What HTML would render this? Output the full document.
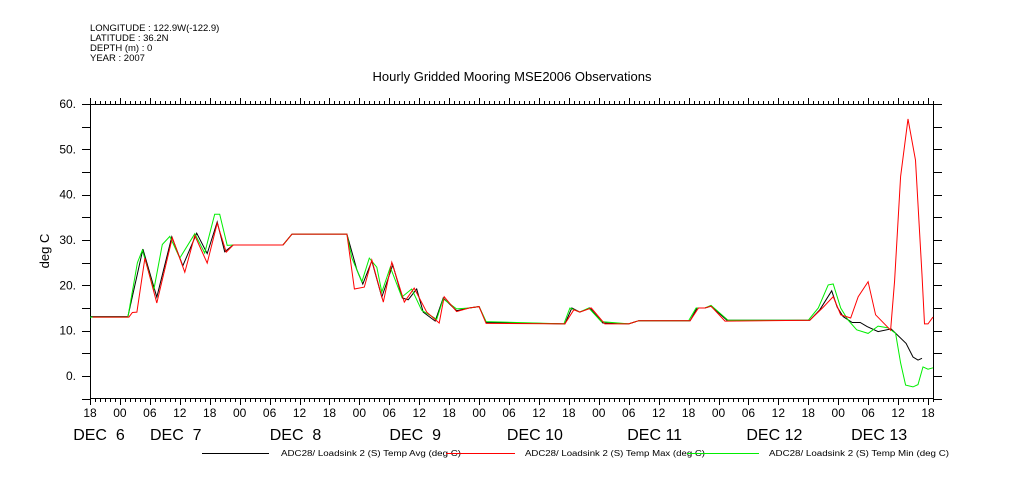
<!DOCTYPE html>
<html><head><meta charset="utf-8"><style>
body{margin:0;background:#fff;}
svg{display:block;font-family:"Liberation Sans",sans-serif;}
</style></head><body>
<svg id="c" width="1009" height="504" viewBox="0 0 1009 504">
<g font-size="9.5" fill="#000">
<text x="90" y="31">LONGITUDE : 122.9W(-122.9)</text>
<text x="90" y="41">LATITUDE : 36.2N</text>
<text x="90" y="51">DEPTH (m) : 0</text>
<text x="90" y="61">YEAR : 2007</text>
</g>
<text x="512" y="81" font-size="13" text-anchor="middle">Hourly Gridded Mooring MSE2006 Observations</text>
<text x="49" y="251" font-size="13" text-anchor="middle" transform="rotate(-90 49 251)">deg C</text>
<g id="axes"></g>
<g id="series"></g>
<g font-size="8">
<line x1="202" y1="453.5" x2="269" y2="453.5" stroke="#000"/>
<text x="281" y="456" textLength="180" lengthAdjust="spacingAndGlyphs">ADC28/ Loadsink 2 (S) Temp Avg (deg C)</text>
<line x1="446" y1="453.5" x2="515" y2="453.5" stroke="#f00"/>
<text x="525" y="456" textLength="180" lengthAdjust="spacingAndGlyphs">ADC28/ Loadsink 2 (S) Temp Max (deg C)</text>
<line x1="687" y1="453.5" x2="759" y2="453.5" stroke="#0e0"/>
<text x="769" y="456" textLength="180" lengthAdjust="spacingAndGlyphs">ADC28/ Loadsink 2 (S) Temp Min (deg C)</text>
</g>
</svg>
<script>
// hours since DEC 6 18:00
const avgH=[0,7.6,10.6,13.4,16.4,18.6,21.4,23.5,25.5,27,28.7,38.7,40.5,51.5,53.5,54.7,56.5,58.5,60.7,62.6,63.8,65.5,66.8,69.2,70.8,73.5,76,78,79.4,95.2,96.6,98.2,100.2,102.8,108,110,120.3,121.7,123.3,124.5,127.7,144.3,146.3,148.7,149.8,151,152.8,154.4,155.8,158,160.6,163.6,165,166,166.8];
const avgV=[13.1,13.1,28,17.4,30.7,24.3,31.5,27,34,27.4,28.9,28.9,31.3,31.3,23.4,20.3,25.4,17.4,24.5,17.2,16.8,19.2,14.1,12.1,17.2,14.4,15,15.3,11.8,11.5,15,14.1,15,11.7,11.5,12.2,12.2,15,15,15.4,12.3,12.3,14.6,18.8,15.2,13.1,11.8,11.8,10.9,9.8,10.4,7.2,4.2,3.5,3.9];
const maxH=[0.5,7.8,8.5,9.4,11,13.4,16.5,19,21,23.5,25.5,27.3,28.7,38.7,40.5,51.5,53,55,56.5,58.8,60.5,63,65,67.5,70,71,73.5,76,78,79.4,95.2,97,98.2,100.5,103.2,108,110,120.3,122,123.3,124.5,127.3,144.3,147,149,150.5,152.5,154,156,157.5,160.5,161.3,162.5,164,165.5,166.8,167.3,168,169];
const maxV=[13,13,14,14.1,26,16.1,30.5,22.9,31,24.9,33.7,27.3,28.9,28.9,31.3,31.3,19.2,19.6,25.6,16.3,25.1,16.3,19.4,14.1,11.7,17.5,14.2,15,15.3,11.6,11.5,14.6,14.1,15,11.5,11.5,12.2,12.2,15,15,15.4,12.1,12.3,15.2,17.5,13.5,12.8,17.5,20.8,13.5,10.1,21,44,56.7,47.6,22.3,11.5,11.5,13];
const minH=[0,7.6,9.5,10.5,12.8,14.5,16,18,21,23,25,26,27.5,28.7,38.7,40.5,51.5,52.5,54.5,56,57.5,58.5,60.2,62.5,64.5,66.5,69.5,70.8,73.5,76,78,79.4,95,96.2,98.2,100,102.5,108,110,120,121.5,123.3,124.5,127.9,144,146,148,149,150.5,152,153.7,156,158,160,161.5,162.5,163.5,165,166,167,168,169];
const minV=[13,13,25,27.8,19,29,30.8,26,31.4,27.1,35.7,35.7,28.8,28.9,28.9,31.3,31.3,26,20.8,26,24,18.5,24,17.4,19.2,14.5,12.5,17,14.8,15,15.3,12,11.5,15,14.1,15,12,11.5,12.2,12.2,15,15,15.6,12.3,12.3,15,20.1,20.3,15,12.3,10.2,9.4,11,10.6,9.4,2.9,-2,-2.4,-1.9,2,1.5,1.8];
const yTicks=[60,50,40,30,20,10,0];
const hourLabels=["18","00","06","12"];
const dayLabels=["DEC  6","DEC  7","DEC  8","DEC  9","DEC 10","DEC 11","DEC 12","DEC 13"];
const dayNoonH=[1.8,17.2,41.2,65.2,89.2,113.2,137.2,158.2];

const NS="http://www.w3.org/2000/svg";
const L=90,R=933,T=104,B=398;
const xs=h=>L+h*(928-90)/168;
const ys=v=>376-v*(376-104)/60;
function mk(t,a,p){const e=document.createElementNS(NS,t);for(const k in a)e.setAttribute(k,a[k]);p.appendChild(e);return e;}
const ax=document.getElementById('axes');
const frame=mk('rect',{x:L+0.5,y:T+0.5,width:R-L,height:B-T,fill:'none',stroke:'#000','stroke-width':1},ax);


let d='';
for(let h=0;h<=169;h++){const x=Math.round(xs(h))+0.5;const len=(h%6===0)?6:3;
 d+=`M${x} ${T}v${-len}M${x} ${B+1}v${len}`;}
const xt=mk('path',{d:d,stroke:'#000','stroke-width':1,fill:'none'},ax);


for(let i=0;i*6<=168;i++){const t=mk('text',{x:xs(i*6),y:417,'font-size':12,'text-anchor':'middle'},ax);
 t.textContent=hourLabels[i%4];
 
 }
for(let i=0;i<dayLabels.length;i++){const t=mk('text',{x:xs(dayNoonH[i]),y:440,'font-size':16,'text-anchor':'middle'},ax);
 t.textContent=dayLabels[i];t.style.whiteSpace='pre';
 
 }
let yd='';
for(let v=-5;v<=60;v+=5){const y=Math.round(ys(v))+0.5;yd+=`M${L} ${y}h-8M${R+1} ${y}h8`;}
const yt=mk('path',{d:yd,stroke:'#000',fill:'none'},ax);


yTicks.forEach(v=>{const t=mk('text',{x:76,y:ys(v)+4,'font-size':12,'text-anchor':'end'},ax);
 t.textContent=v.toFixed(0)+'.';
 
 });
const sg=document.getElementById('series');
function line(H,V,col,name){const pts=H.map((h,i)=>xs(h).toFixed(1)+','+ys(V[i]).toFixed(1)).join(' ');
 const p=mk('polyline',{points:pts,fill:'none',stroke:col,'stroke-width':1},sg);
 
 }
line(avgH,avgV,'#000','temp-avg-line');
line(minH,minV,'#0e0','temp-min-line');
line(maxH,maxV,'#f00','temp-max-line');
</script>
</body></html>
